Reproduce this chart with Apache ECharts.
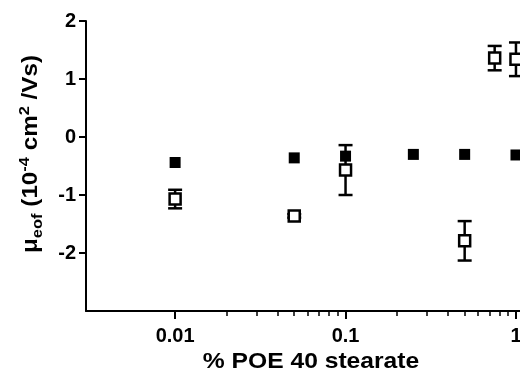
<!DOCTYPE html>
<html>
<head>
<meta charset="utf-8">
<script src="https://cdn.jsdelivr.net/npm/echarts@6/dist/echarts.min.js"></script>
<style>
  html, body { margin: 0; padding: 0; background: #fff; }
  #chart { width: 520px; height: 376px; }
</style>
</head>
<body>
<div id="chart"></div>
<script>
// % POE 40 stearate vs electroosmotic mobility
const concFilled = [0.01, 0.05, 0.1, 0.25, 0.5, 1];
const mobFilled = [-0.44, -0.36, -0.33, -0.30, -0.30, -0.31];

const concOpen = [0.01, 0.05, 0.1, 0.5, 0.75, 1];
const mobOpen = [-1.07, -1.36, -0.57, -1.79, 1.36, 1.34];
const errOpen = [0.16, 0.03, 0.43, 0.34, 0.21, 0.29];

const xMajor = [0.01, 0.1, 1];
const xMinor = [0.02, 0.03, 0.04, 0.05, 0.06, 0.07, 0.08, 0.09,
  0.2, 0.3, 0.4, 0.5, 0.6, 0.7, 0.8, 0.9];
const yTicks = [-2, -1, 0, 1, 2];

const font = "'Liberation Sans', Arial, sans-serif";
const xMin = 0.003;
const xMax = 1.056;
const gridBox = { left: 86, right: 0, top: 21, bottom: 65, outerBoundsMode: 'none' };

const chart = echarts.init(document.getElementById('chart'), null, { renderer: 'canvas' });

chart.setOption({
  animation: false,
  backgroundColor: '#fff',
  // second grid only carries the minor ticks of the log axis
  grid: [gridBox, { ...gridBox }],
  xAxis: [
    {
      type: 'log',
      gridIndex: 0,
      min: xMin,
      max: xMax,
      axisLine: { onZero: false, lineStyle: { color: '#000', width: 2 } },
      axisTick: { customValues: xMajor, length: 8, lineStyle: { color: '#000', width: 2 } },
      axisLabel: { customValues: xMajor, margin: 15, fontFamily: font, fontWeight: 'bold', fontSize: 20, color: '#000' },
      splitLine: { show: false }
    },
    {
      type: 'log',
      gridIndex: 1,
      min: xMin,
      max: xMax,
      position: 'bottom',
      axisLine: { show: false, onZero: false },
      axisTick: { customValues: xMinor, length: 5, lineStyle: { color: '#000', width: 1.5 } },
      axisLabel: { show: false },
      splitLine: { show: false }
    }
  ],
  yAxis: [
    {
      type: 'value',
      gridIndex: 0,
      min: -3,
      max: 2,
      interval: 1,
      axisLine: { show: true, onZero: false, lineStyle: { color: '#000', width: 2 } },
      axisTick: { show: true, customValues: yTicks, length: 7, lineStyle: { color: '#000', width: 2 } },
      axisLabel: { customValues: yTicks, margin: 10, fontFamily: font, fontWeight: 'bold', fontSize: 20, color: '#000' },
      splitLine: { show: false }
    },
    {
      type: 'value',
      gridIndex: 1,
      min: -3,
      max: 2,
      show: false
    }
  ],
  graphic: [
    {
      type: 'text',
      x: 31,
      y: 154,
      rotation: Math.PI / 2,
      scaleX: 1.1,
      style: {
        text: '{n|μ}{sub|eof}{n| (10}{sup|-4}{n| cm}{sup|2}{n| /Vs)}',
        align: 'center',
        verticalAlign: 'middle',
        fill: '#000',
        rich: {
          n: { fontFamily: font, fontWeight: 'bold', fontSize: 22, lineHeight: 28, color: '#000' },
          sub: { fontFamily: font, fontWeight: 'bold', fontSize: 15, lineHeight: 13, verticalAlign: 'bottom', color: '#000' },
          sup: { fontFamily: font, fontWeight: 'bold', fontSize: 15, lineHeight: 13, verticalAlign: 'top', color: '#000' }
        }
      }
    },
    {
      type: 'text',
      x: 311,
      y: 362,
      scaleX: 1.12,
      style: {
        text: '% POE 40 stearate',
        align: 'center',
        verticalAlign: 'middle',
        fill: '#000',
        font: "bold 22px 'Liberation Sans', Arial, sans-serif"
      }
    }
  ],
  series: [
    {
      type: 'custom',
      name: 'error',
      z: 1,
      data: concOpen.map((c, i) => [c, mobOpen[i] - errOpen[i], mobOpen[i] + errOpen[i]]),
      renderItem: (params, api) => {
        const lo = api.coord([api.value(0), api.value(1)]);
        const hi = api.coord([api.value(0), api.value(2)]);
        const half = 7;
        const style = { stroke: '#000', lineWidth: 2.5 };
        return {
          type: 'group',
          children: [
            { type: 'line', shape: { x1: lo[0], y1: lo[1], x2: hi[0], y2: hi[1] }, style },
            { type: 'line', shape: { x1: lo[0] - half, y1: lo[1], x2: lo[0] + half, y2: lo[1] }, style },
            { type: 'line', shape: { x1: hi[0] - half, y1: hi[1], x2: hi[0] + half, y2: hi[1] }, style }
          ]
        };
      }
    },
    {
      type: 'scatter',
      name: 'filled',
      z: 2,
      symbol: 'rect',
      symbolSize: 11,
      itemStyle: { color: '#000', opacity: 1 },
      data: concFilled.map((c, i) => [c, mobFilled[i]])
    },
    {
      type: 'scatter',
      name: 'open',
      z: 3,
      symbol: 'rect',
      symbolSize: 11,
      itemStyle: { color: '#fff', borderColor: '#000', borderWidth: 2.5, opacity: 1 },
      data: concOpen.map((c, i) => [c, mobOpen[i]])
    }
  ]
});
</script>
</body>
</html>
